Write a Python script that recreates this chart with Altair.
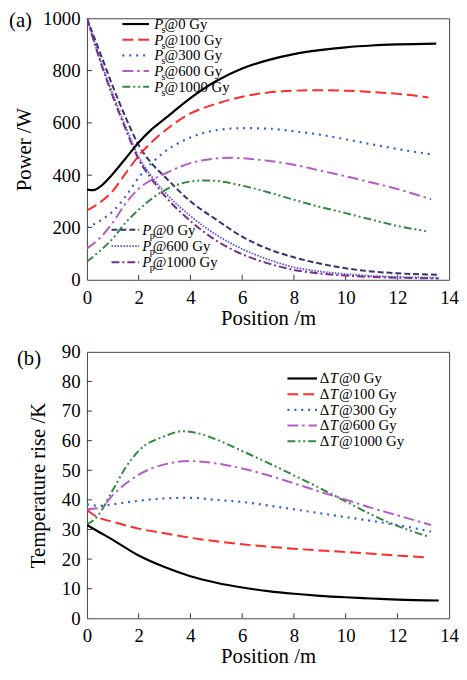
import altair as alt
import pandas as pd

FONT = "Liberation Serif"
W = 367
H_A, H_B = 265, 270

# ---------------- panel (a): power along the fibre ----------------
PS0_X = [0, 0.25, 0.5, 1, 1.5, 2, 2.5, 3, 4, 5, 6, 7, 8, 9, 10, 11, 12, 13.5]
PS0_Y = [345, 343, 355, 405, 465, 525, 575, 615, 695, 760, 808, 840, 863, 878, 889, 896, 900, 903]

PS100_X = [0, 0.5, 1, 1.5, 2, 3, 4, 5, 6, 7, 8, 9, 10, 11, 12, 13, 13.2]
PS100_Y = [265, 295, 340, 408, 474, 569, 636, 673, 700, 716, 723, 725, 723, 718, 711, 700, 697]

PS300_X = [0, 0.5, 1, 1.5, 2, 3, 4, 5, 6, 7, 8, 9, 10, 11, 12, 13.3]
PS300_Y = [200, 225, 262, 320, 391, 489, 544, 572, 580, 578, 568, 555, 537, 518, 500, 480]

PS600_X = [0, 0.5, 1, 1.5, 2, 3, 4, 5, 5.5, 6, 7, 8, 9, 10, 11, 12, 13.3]
PS600_Y = [120, 160, 219, 293, 348, 405, 446, 464, 467, 465, 455, 440, 418, 396, 372, 347, 308]

PS1000_X = [0, 0.5, 1, 1.5, 2, 3, 4, 4.5, 5, 6, 7, 8, 9, 10, 11, 12, 13.1]
PS1000_Y = [70, 110, 158, 219, 268, 342, 376, 380, 378, 360, 335, 306, 279, 255, 230, 206, 186]

PP_X = [0, 0.5, 1, 1.5, 2, 2.5, 3, 4, 5, 6, 7, 8, 9, 10, 11, 12, 13.6]
PP0_Y = [1000, 870, 740, 620, 515, 445, 395, 300, 230, 165, 118, 86, 62, 44, 32, 25, 19]
PP600_Y = [1000, 845, 710, 585, 470, 395, 336, 244, 172, 118, 78, 48, 32, 22, 15, 11, 8]
PP1000_Y = [1000, 840, 700, 575, 460, 385, 322, 225, 150, 98, 63, 38, 24, 16, 11, 8, 5]

PS_LABELS = ["@0 Gy", "@100 Gy", "@300 Gy", "@600 Gy", "@1000 Gy"]
PP_LABELS = ["@0 Gy", "@600 Gy", "@1000 Gy"]

# ---------------- panel (b): temperature rise ----------------
T0_X = [0, 0.5, 1, 2, 3, 4, 5, 6, 7, 8, 9, 10, 11, 12, 13.6]
T0_Y = [31.5, 29, 26.5, 21.2, 17.3, 14.2, 12, 10.4, 9.2, 8.3, 7.6, 7.1, 6.7, 6.3, 6.0]

T100_X = [0, 0.4, 1, 2, 3, 4, 5, 6, 7, 8, 9, 10, 11, 12, 13.2]
T100_Y = [36.6, 34.2, 32.6, 30.3, 28.7, 27.2, 26, 25, 24.2, 23.5, 22.9, 22.4, 21.8, 21.2, 20.5]

T300_X = [0, 0.5, 1, 2, 3, 4, 5, 6, 7, 8, 9, 10, 11, 12, 13.3]
T300_Y = [38.5, 38, 38.5, 39.7, 40.5, 40.7, 40, 39.3, 38.1, 36.8, 35.5, 34.2, 32.9, 31.5, 29.3]

T600_X = [0, 0.5, 1, 1.5, 2, 3, 4, 5, 6, 7, 8, 9, 10, 11, 12, 13.3]
T600_Y = [36.8, 37.3, 41.6, 45.5, 48.5, 52, 53.1, 52.3, 50.6, 48.3, 45.6, 42.8, 40.1, 37.3, 34.8, 31.5]

T1000_X = [0, 0.4, 1, 1.5, 2, 3, 3.7, 4, 5, 6, 7, 8, 9, 10, 11, 12, 13.2]
T1000_Y = [31.7, 34.4, 43.3, 51, 56.6, 61.5, 63.2, 63, 60.4, 56.5, 52.5, 48.3, 44, 39.5, 35, 31.2, 27.6]

T_LABELS = ["@0 Gy", "@100 Gy", "@300 Gy", "@600 Gy", "@1000 Gy"]

X_TICKS = [0, 2, 4, 6, 8, 10, 12, 14]
YA_TICKS = [0, 200, 400, 600, 800, 1000]
YB_TICKS = [0, 10, 20, 30, 40, 50, 60, 70, 80, 90]
PANEL_LABELS = ["(a)", "(b)"]

# styles: colour, dash, width
STY = {
    "k": ("#000000", None, 2.2),
    "r": ("#ff2b2b", [11, 5], 2.0),
    "b": ("#2f5fd0", [2, 5], 2.2),
    "m": ("#b55cc6", [11, 4, 2.5, 4], 2.0),
    "g": ("#2e8b3c", [8, 3, 2, 3, 2, 3], 2.0),
    "n": ("#33336e", [6, 3], 2.0),
    "v": ("#5a50d8", [1.6, 1.4], 1.8),
    "p": ("#7b2d8e", [8, 3, 2, 3], 2.0),
}


def make_axes(H, ydom, yticks, ytitle, ytitle_x):
    xenc = alt.X("x:Q", scale=alt.Scale(domain=[0, 14], nice=False, zero=False),
                 axis=alt.Axis(values=X_TICKS, title="Position /m", ticks=False, domain=False,
                               grid=False, labelFlush=False, labelOverlap=False, format="d",
                               labelPadding=9, titleX=W / 2, titleY=39,
                               titleBaseline="middle"))
    yenc = alt.Y("y:Q", scale=alt.Scale(domain=ydom, nice=False, zero=False),
                 axis=alt.Axis(values=yticks, title=ytitle, ticks=False, domain=False,
                               grid=False, labelFlush=False, labelOverlap=False, format="d",
                               labelPadding=7, titleX=ytitle_x, titleY=H / 2,
                               titleBaseline="middle"))
    return xenc, yenc


def line(xs, ys, key, xenc, yenc):
    color, dash, sw = STY[key]
    props = dict(color=color, strokeWidth=sw, interpolate="monotone", clip=True,
                 strokeCap="butt")
    if dash:
        props["strokeDash"] = dash
    return alt.Chart(pd.DataFrame({"x": xs, "y": ys})).mark_line(**props).encode(x=xenc, y=yenc)


def inner_ticks(H, xenc, yenc, yticks):
    tx = alt.Chart(pd.DataFrame({"x": X_TICKS[1:-1]})).mark_rule(color="#333", strokeWidth=1).encode(
        x=xenc, y=alt.value(H), y2=alt.value(H - 5))
    ty = alt.Chart(pd.DataFrame({"y": yticks[1:-1]})).mark_rule(color="#333", strokeWidth=1).encode(
        y=yenc, x=alt.value(0), x2=alt.value(5))
    return [tx, ty]


def legend_block(keys, labels, x0, x1, xt, ys, xenc, yenc, mode):
    layers = []
    for key, lab, yy in zip(keys, labels, ys):
        color, dash, sw = STY[key]
        props = dict(color=color, strokeWidth=sw, strokeCap="butt")
        if dash:
            props["strokeDash"] = dash
        d = pd.DataFrame({"x": [x0], "x2": [x1], "y": [yy]})
        layers.append(alt.Chart(d).mark_rule(**props).encode(x=xenc, x2="x2:Q", y=yenc))
        dt = pd.DataFrame({"x": [xt], "y": [yy], "t": [lab]})
        common = dict(font=FONT, fontSize=15, align="left", baseline="middle", color="black")
        if mode == "T":
            layers.append(alt.Chart(dt).mark_text(text="Δ", **common).encode(x=xenc, y=yenc))
            layers.append(alt.Chart(dt).mark_text(text="T", fontStyle="italic", dx=10, **common)
                          .encode(x=xenc, y=yenc))
            layers.append(alt.Chart(dt).mark_text(dx=19.5, **common).encode(x=xenc, y=yenc, text="t:N"))
        else:
            layers.append(alt.Chart(dt).mark_text(text="P", fontStyle="italic", **common)
                          .encode(x=xenc, y=yenc))
            sub = dict(common)
            sub["fontSize"] = 10
            layers.append(alt.Chart(dt).mark_text(text=mode, dx=7.5, dy=6, **sub)
                          .encode(x=xenc, y=yenc))
            layers.append(alt.Chart(dt).mark_text(dx=10.5, **common).encode(x=xenc, y=yenc, text="t:N"))
    return layers


def panel_label(txt, px, py):
    return alt.Chart(pd.DataFrame({"t": [txt]})).mark_text(
        font=FONT, fontSize=21, align="left", baseline="middle", color="black").encode(
        x=alt.value(px), y=alt.value(py), text="t:N")


# ---- build panel (a)
xa, ya = make_axes(H_A, [0, 1000], YA_TICKS, "Power /W", -63)
layers_a = inner_ticks(H_A, xa, ya, YA_TICKS)
layers_a += [
    line(PP_X, PP0_Y, "n", xa, ya),
    line(PP_X, PP600_Y, "v", xa, ya),
    line(PP_X, PP1000_Y, "p", xa, ya),
    line(PS1000_X, PS1000_Y, "g", xa, ya),
    line(PS600_X, PS600_Y, "m", xa, ya),
    line(PS300_X, PS300_Y, "b", xa, ya),
    line(PS100_X, PS100_Y, "r", xa, ya),
    line(PS0_X, PS0_Y, "k", xa, ya),
]
ps_rows = [978 - i * 60 for i in range(5)]
layers_a += legend_block(["k", "r", "b", "m", "g"], PS_LABELS, 1.37, 2.4, 2.6, ps_rows, xa, ya, "s")
pp_rows = [191 - i * 62 for i in range(3)]
layers_a += legend_block(["n", "v", "p"], PP_LABELS, 0.95, 2.02, 2.14, pp_rows, xa, ya, "p")
layers_a.append(panel_label(PANEL_LABELS[0], -79, 3))
top = alt.layer(*layers_a).properties(width=W, height=H_A)

# ---- build panel (b)
xb, yb = make_axes(H_B, [0, 90], YB_TICKS, "Temperature rise /K", -49)
layers_b = inner_ticks(H_B, xb, yb, YB_TICKS)
layers_b += [
    line(T1000_X, T1000_Y, "g", xb, yb),
    line(T600_X, T600_Y, "m", xb, yb),
    line(T300_X, T300_Y, "b", xb, yb),
    line(T100_X, T100_Y, "r", xb, yb),
    line(T0_X, T0_Y, "k", xb, yb),
]
t_rows = [81.0 - i * 5.3 for i in range(5)]
layers_b += legend_block(["k", "r", "b", "m", "g"], T_LABELS, 7.75, 8.89, 9.0, t_rows, xb, yb, "T")
layers_b.append(panel_label(PANEL_LABELS[1], -71, 7))
bottom = alt.layer(*layers_b).properties(width=W, height=H_B)

chart = alt.vconcat(top, bottom, spacing=73).properties(
    padding={"top": -4, "left": 0, "right": 0, "bottom": 0}, bounds="flush"
).configure_view(
    stroke="#444", strokeWidth=1
).configure_axis(
    labelFont=FONT, labelFontSize=19, labelColor="black",
    titleFont=FONT, titleFontSize=21, titleFontWeight="normal", titleColor="black"
)

chart.save("out.html", embed_options={"renderer": "svg", "actions": False})
